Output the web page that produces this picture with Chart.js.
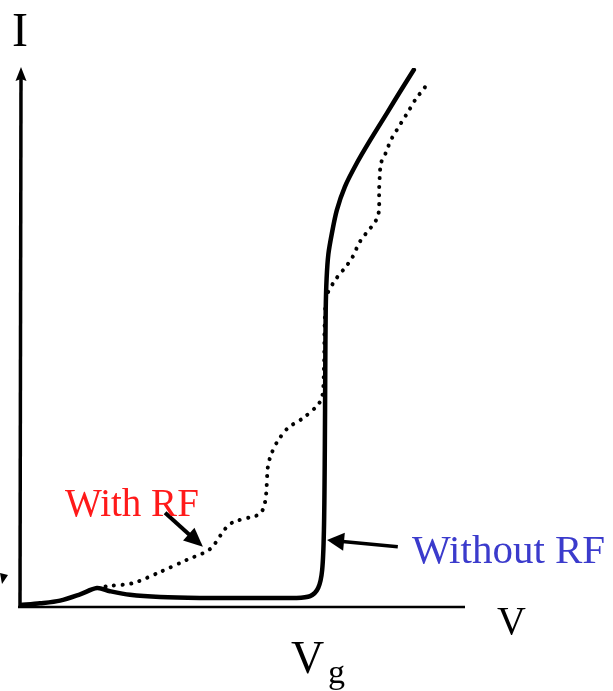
<!DOCTYPE html>
<html>
<head>
<meta charset="utf-8">
<script src="https://cdn.jsdelivr.net/npm/chart.js@4/dist/chart.umd.min.js"></script>
<style>
  html, body { margin: 0; padding: 0; background: #ffffff; }
  #wrap { width: 613px; height: 691px; }
</style>
</head>
<body>
<div id="wrap"><canvas id="iv" width="613" height="691"></canvas></div>
<script>
// I–V characteristic, arbitrary units (V along x, I along y)
const vNoRF = [0, 0.45, 0.90, 1.35, 1.73, 2.02, 2.47, 3.15, 4.04, 5.17, 6.18, 6.52, 6.70, 6.79, 6.83, 6.85, 6.86, 6.87, 6.89, 6.93, 7.01, 7.12, 7.30, 7.57, 7.87, 8.25, 8.54, 8.85];
const iNoRF = [0.02, 0.06, 0.12, 0.26, 0.40, 0.33, 0.25, 0.20, 0.18, 0.18, 0.18, 0.22, 0.40, 0.80, 1.70, 3.48, 5.30, 6.60, 7.30, 7.85, 8.32, 8.83, 9.35, 9.88, 10.39, 11.00, 11.47, 11.96];

const vRF = [1.73, 2.02, 2.54, 3.15, 3.75, 4.27, 4.61, 4.79, 5.21, 5.39, 5.48, 5.53, 5.57, 5.64, 5.78, 6.02, 6.36, 6.67, 6.79, 6.83, 6.85, 6.90, 7.12, 7.30, 7.46, 7.57, 7.66, 7.80, 7.93, 8.04, 8.07, 8.07, 8.09, 8.11, 8.20, 8.27, 8.36, 8.47, 8.58, 8.72, 8.92, 9.06, 9.17];
const iRF = [0.40, 0.45, 0.51, 0.76, 1.03, 1.27, 1.72, 1.87, 1.99, 2.05, 2.21, 2.48, 3.10, 3.37, 3.66, 3.97, 4.19, 4.46, 4.66, 5.26, 6.38, 6.94, 7.32, 7.54, 7.76, 7.99, 8.16, 8.34, 8.50, 8.68, 8.90, 9.28, 9.68, 9.88, 10.06, 10.24, 10.44, 10.62, 10.80, 11.02, 11.35, 11.51, 11.69];

const seriesNames = ['Without RF', 'With RF'];
const axisNames = { x: 'V', y: 'I', gate: 'V', gateSub: 'g' };

const toPoints = (xs, ys) => xs.map((x, k) => ({ x: x, y: ys[k] }));

// Hand-drawn style axes with an arrow on the current axis, plus labels and pointer arrows
const sketchPlugin = {
  id: 'sketch',
  afterDraw(chart) {
    const { ctx, chartArea: a, scales } = chart;
    const X = v => scales.x.getPixelForValue(v);
    const Y = v => scales.y.getPixelForValue(v);
    ctx.save();
    ctx.strokeStyle = '#000';
    ctx.fillStyle = '#000';
    ctx.lineCap = 'butt';

    // vertical axis
    ctx.lineWidth = 3.5;
    ctx.beginPath();
    ctx.moveTo(a.left, a.bottom + 1);
    ctx.lineTo(a.left + 1, a.top + 8);
    ctx.stroke();
    ctx.beginPath();
    ctx.moveTo(a.left + 1, a.top - 1);
    ctx.lineTo(a.left + 6.5, a.top + 13);
    ctx.lineTo(a.left + 1, a.top + 11);
    ctx.lineTo(a.left - 4.5, a.top + 13);
    ctx.closePath();
    ctx.fill();

    // horizontal axis
    ctx.lineWidth = 2.5;
    ctx.beginPath();
    ctx.moveTo(a.left - 2, a.bottom + 1);
    ctx.lineTo(a.right, a.bottom + 1);
    ctx.stroke();

    // arrow helper
    const arrow = (x1, y1, x2, y2, len, half, w) => {
      const ang = Math.atan2(y2 - y1, x2 - x1);
      ctx.lineWidth = w;
      ctx.beginPath();
      ctx.moveTo(x1, y1);
      ctx.lineTo(x2 - Math.cos(ang) * len * 0.6, y2 - Math.sin(ang) * len * 0.6);
      ctx.stroke();
      const bx = x2 - Math.cos(ang) * len, by = y2 - Math.sin(ang) * len;
      ctx.beginPath();
      ctx.moveTo(x2, y2);
      ctx.lineTo(bx - Math.sin(ang) * half, by + Math.cos(ang) * half);
      ctx.lineTo(bx + Math.sin(ang) * half, by - Math.cos(ang) * half);
      ctx.closePath();
      ctx.fill();
    };
    arrow(X(3.26), Y(2.08), X(4.11), Y(1.32), 19, 8.5, 4);
    arrow(X(8.49), Y(1.32), X(6.90), Y(1.47), 17, 9, 3.5);

    // small pointer at the left edge
    ctx.beginPath();
    ctx.moveTo(0, 573);
    ctx.lineTo(8, 575);
    ctx.lineTo(2, 584);
    ctx.closePath();
    ctx.fill();

    // labels
    ctx.textBaseline = 'alphabetic';
    ctx.textAlign = 'left';
    ctx.fillStyle = '#ff1a1a';
    ctx.font = '39px "Liberation Serif"';
    ctx.fillText(seriesNames[1], X(1.01), Y(2.01));
    ctx.fillStyle = '#3b3bcc';
    ctx.font = '41px "Liberation Serif"';
    ctx.fillText(seriesNames[0], X(8.81), Y(0.96));

    ctx.fillStyle = '#000';
    ctx.font = '48px "Liberation Serif"';
    ctx.fillText(axisNames.y, 12, 46);
    ctx.font = '40px "Liberation Serif"';
    ctx.fillText(axisNames.x, 497, 634);
    ctx.font = '46px "Liberation Serif"';
    ctx.fillText(axisNames.gate, 291, 673);
    ctx.font = '34px "Liberation Serif"';
    ctx.fillText(axisNames.gateSub, 328, 683);
    ctx.restore();
  }
};

new Chart(document.getElementById('iv'), {
  type: 'scatter',
  data: {
    datasets: [
      {
        label: seriesNames[0],
        data: toPoints(vNoRF, iNoRF),
        showLine: true,
        borderColor: '#000',
        borderWidth: 4.5,
        pointRadius: 0,
        tension: 0.3,
        borderCapStyle: 'round',
        borderJoinStyle: 'round'
      },
      {
        label: seriesNames[1],
        data: toPoints(vRF, iRF),
        showLine: true,
        borderColor: '#000',
        borderWidth: 4,
        borderDash: [0.1, 8.5],
        borderCapStyle: 'round',
        pointRadius: 0,
        tension: 0.3
      }
    ]
  },
  options: {
    responsive: false,
    animation: false,
    devicePixelRatio: 1,
    layout: { padding: { left: 20, right: 148, top: 68, bottom: 85 } },
    scales: {
      x: { type: 'linear', min: 0, max: 10, display: false },
      y: { type: 'linear', min: 0, max: 12, display: false }
    },
    plugins: {
      legend: { display: false },
      tooltip: { enabled: false }
    }
  },
  plugins: [sketchPlugin]
});
</script>
</body>
</html>
